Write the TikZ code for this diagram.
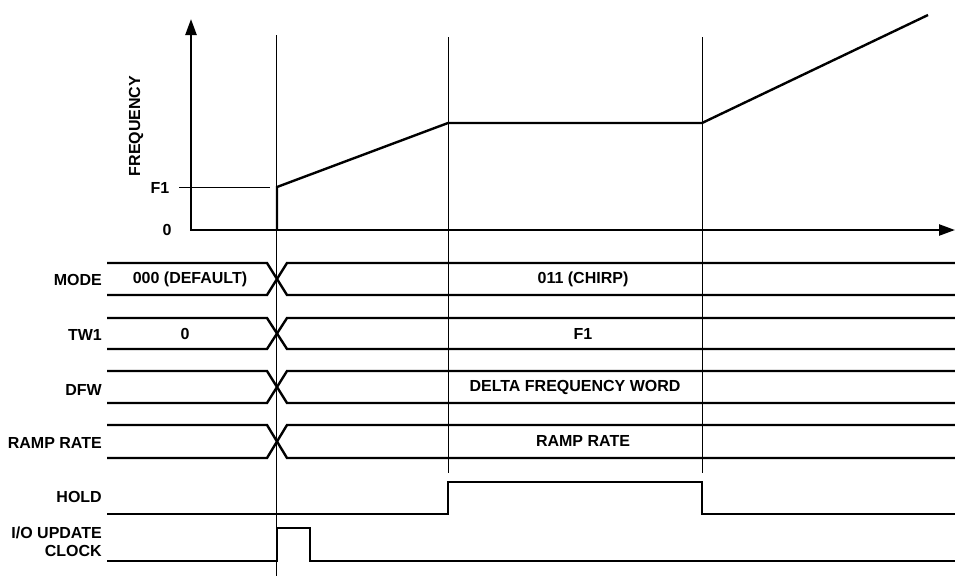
\documentclass[tikz,border=0pt]{standalone}
\usepackage{fontspec}
\setmainfont{Liberation Sans}
\usetikzlibrary{arrows.meta}
\newcommand{\busrow}[2]{%
  \draw[sig] (107,#1) -- (267,#1) -- (287,#2) -- (955,#2);
  \draw[sig] (107,#2) -- (267,#2) -- (287,#1) -- (955,#1);}
\begin{document}
\begin{tikzpicture}[x=1pt,y=-1pt,
  sig/.style={line width=2.4pt, line join=miter},
  guide/.style={line width=0.8pt},
  lbl/.style={font=\bfseries\fontsize{16}{18.5}\selectfont, inner sep=0pt},
  rlbl/.style={lbl, anchor=east, align=right},
  axis/.style={line width=2.4pt, {Triangle[length=16pt,width=11pt]}-{Triangle[length=16pt,width=11pt]}}]
\useasboundingbox (0,0) rectangle (955,576);
% axes
\coordinate (ytop) at (191,19);
\coordinate (origin) at (191,230);
\coordinate (xend) at (955,230);
\draw[axis] (ytop) -- (origin) -- (xend);
% guides
\coordinate (g1t) at (276,35); \coordinate (g1b) at (276,576);
\coordinate (g2t) at (448,37); \coordinate (g2b) at (448,473);
\coordinate (g3t) at (702,37); \coordinate (g3b) at (702,473);
\draw[guide] (g1t) -- (g1b);
\draw[guide] (g2t) -- (g2b);
\draw[guide] (g3t) -- (g3b);
\coordinate (f1a) at (179,187); \coordinate (f1b) at (270,187);
\draw[guide] (f1a) -- (f1b);
% frequency curve
\draw[sig] (277,230) -- (277,187) -- (448,123) -- (702,123) -- (928,15);
% labels of graph
\node[lbl, rotate=90] (freq) at (136,126) {FREQUENCY};
\node[lbl] (lf1) at (160,188) {F1};
\node[lbl] (l0) at (167,230) {0};
% bus rows
\busrow{263}{295}
\busrow{318}{349}
\busrow{371}{403}
\busrow{425}{458}
% hold
\draw[sig] (107,514) -- (448,514) -- (448,482) -- (702,482) -- (702,514) -- (955,514);
% clock
\draw[sig] (107,561) -- (277,561) -- (277,528) -- (310,528) -- (310,561) -- (955,561);
% row labels
\node[rlbl] (mode) at (102,280) {MODE};
\node[rlbl] (tw1) at (102,335) {TW1};
\node[rlbl] (dfw) at (102,390) {DFW};
\node[rlbl] (rr) at (102,443) {RAMP RATE};
\node[rlbl] (hold) at (102,497) {HOLD};
\node[rlbl] (clk) at (102,542) {I/O UPDATE\\CLOCK};
% values
\node[lbl] (v1) at (190,279) {000 (DEFAULT)};
\node[lbl] (v2) at (583,279) {011 (CHIRP)};
\node[lbl] (v3) at (185,334) {0};
\node[lbl] (v4) at (583,334) {F1};
\node[lbl] (v5) at (575,387) {DELTA FREQUENCY WORD};
\node[lbl] (v6) at (583,441) {RAMP RATE};
\end{tikzpicture}
\end{document}
